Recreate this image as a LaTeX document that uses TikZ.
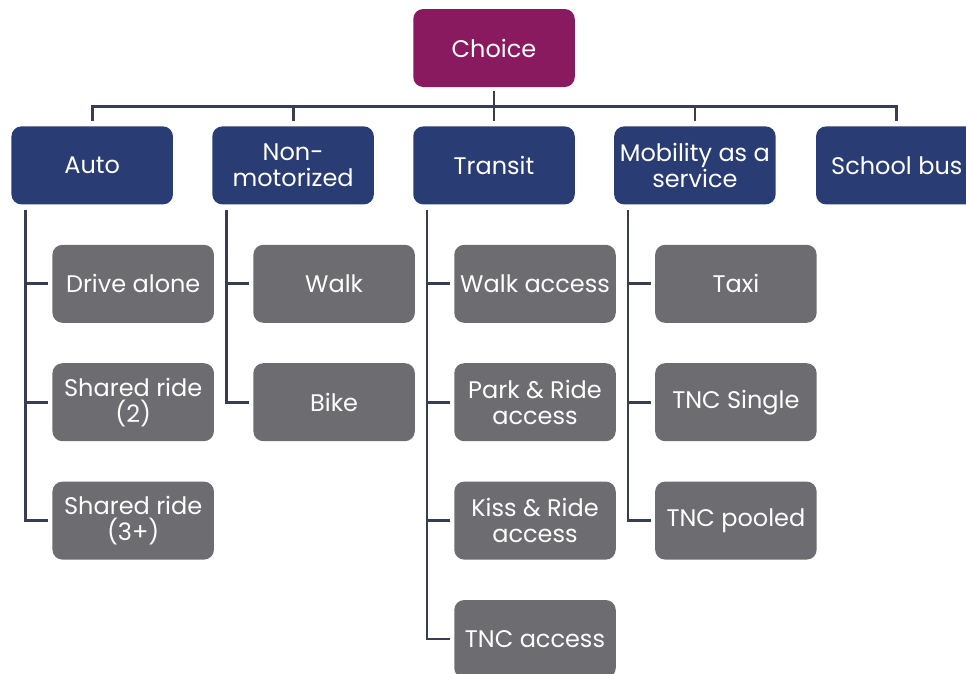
\documentclass[tikz,border=0pt]{standalone}
\usepackage{fontspec}
\setmainfont{Poppins}
\usetikzlibrary{positioning}

\definecolor{choicepurple}{HTML}{8A1A5F}
\definecolor{modenavy}{HTML}{293D74}
\definecolor{submodegray}{HTML}{6D6C71}
\definecolor{linkgray}{HTML}{383D52}

\tikzset{
  box/.style={rounded corners=10pt, minimum width=161.5pt, minimum height=78pt,
    inner sep=2pt, align=center, text=white, font=\fontsize{24}{26}\selectfont},
  choicebox/.style={box, fill=choicepurple},
  modebox/.style={box, fill=modenavy},
  subbox/.style={box, fill=submodegray},
  link/.style={draw=linkgray, line width=2.8pt}
}

\begin{document}
\begin{tikzpicture}[x=1pt, y=1pt, node distance=40pt]
\useasboundingbox (0,0) rectangle (966,-673);
\node [choicebox] (choice) at (494,-48) {Choice};
\node [modebox, below=39pt of choice] (transit) {Transit};
\node [modebox, left=39pt of transit] (nonmot) {Non-\\motorized};
\node [modebox, left=39pt of nonmot] (auto) {Auto};
\node [modebox, right=39pt of transit] (maas) {Mobility as a\\service};
\node [modebox, right=40pt of maas] (school) {School bus};

\node [subbox, below=40pt of auto, xshift=41pt] (drive) {Drive alone};
\node [subbox, below= of drive] (shared2) {Shared ride\\(2)};
\node [subbox, below= of shared2] (shared3) {Shared ride\\(3+)};
\node [subbox, below=40pt of nonmot, xshift=41pt] (walk) {Walk};
\node [subbox, below= of walk] (bike) {Bike};
\node [subbox, below=40pt of transit, xshift=41pt] (walkacc) {Walk access};
\node [subbox, below= of walkacc] (parkride) {Park \& Ride\\access};
\node [subbox, below= of parkride] (kissride) {Kiss \& Ride\\access};
\node [subbox, below= of kissride] (tncacc) {TNC access};
\node [subbox, below=40pt of maas, xshift=41pt] (taxi) {Taxi};
\node [subbox, below= of taxi] (tncsingle) {TNC Single};
\node [subbox, below= of tncsingle] (tncpool) {TNC pooled};

\coordinate (bus) at ([yshift=-19.5pt]choice.south);
\draw [link] ([yshift=-4pt]choice.south) -- (bus);
\draw [link] ([yshift=5pt]auto.north) |- (bus) -| ([yshift=5pt]school.north);
\foreach \m in {nonmot, transit, maas}
  \draw [link] ([yshift=5pt]\m.north) -- (\m.north |- bus);

\foreach \m/\last in {auto/shared3, nonmot/bike, transit/tncacc, maas/tncpool}{
  \coordinate (\m-spine) at ([xshift=14pt, yshift=-5pt]\m.south west);
  \draw [link] (\m-spine) |- ([xshift=-4pt]\last.west);
}
\foreach \m/\sub in {auto/drive, auto/shared2, nonmot/walk, transit/walkacc,
    transit/parkride, transit/kissride, maas/taxi, maas/tncsingle}
  \draw [link] ([xshift=-4pt]\sub.west) -- (\sub.west -| \m-spine);
\end{tikzpicture}
\end{document}
